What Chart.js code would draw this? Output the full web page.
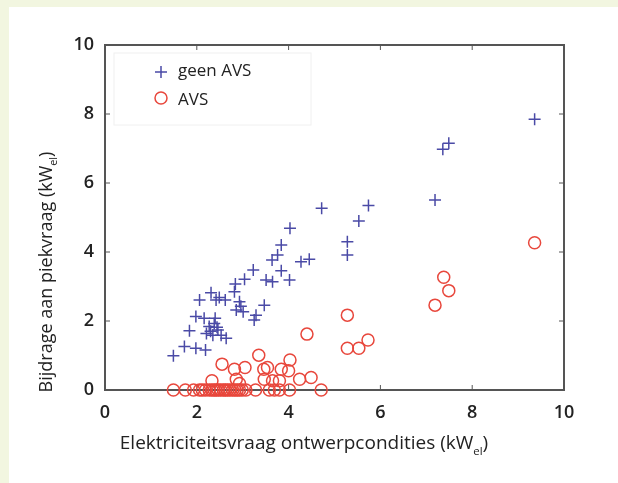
<!DOCTYPE html>
<html>
<head>
<meta charset="utf-8">
<script src="https://cdn.jsdelivr.net/npm/chart.js@4"></script>
<style>
  html, body { margin: 0; padding: 0; background: #f2f6e0; overflow: hidden; }
  #wrap { position: absolute; left: 9px; top: 7px; width: 640px; height: 500px; background: #fff; }
  canvas { position: absolute; left: 0; top: 0; }
</style>
</head>
<body>
<div id="wrap"></div>
<canvas id="chart" width="618" height="483"></canvas>
<script>
// geen AVS (plus markers)
const geenAvsX = [1.49, 1.73, 1.98, 2.19, 1.84, 1.98, 2.16, 2.06, 2.31, 2.42, 2.49, 2.62, 2.82, 2.84, 3.04,
    3.23, 3.51, 3.65, 3.84, 3.64, 3.76, 3.84, 4.03, 4.02, 4.27, 4.45, 2.86, 2.96, 3.01, 2.93,
    3.25, 3.29, 3.47, 2.27, 2.38, 2.46, 2.35, 2.53, 2.64, 2.21, 2.40, 2.30, 2.44, 4.72, 5.28,
    5.28, 5.53, 5.74, 7.19, 7.36, 7.49, 9.36];
const geenAvsY = [0.99, 1.26, 1.21, 1.16, 1.72, 2.13, 2.08, 2.61, 2.82, 2.61, 2.68, 2.61, 2.85, 3.07, 3.21,
    3.48, 3.19, 3.14, 3.46, 3.77, 3.91, 4.20, 4.69, 3.19, 3.72, 3.79, 2.32, 2.43, 2.27, 2.56,
    2.03, 2.17, 2.46, 1.84, 1.93, 1.74, 1.59, 1.59, 1.50, 1.64, 2.08, 1.70, 1.82, 5.27, 3.91,
    4.30, 4.90, 5.35, 5.51, 6.98, 7.15, 7.85];

// AVS (circle markers)
const avsX = [9.36, 7.38, 7.49, 7.19, 5.28, 5.28, 5.53, 5.73, 4.40, 3.35, 2.55, 4.03, 2.82, 3.05, 3.46,
    3.54, 3.84, 4.00, 4.24, 4.49, 2.33, 2.86, 2.93, 3.47, 3.65, 3.80,
    1.49, 1.75, 1.93, 2.06, 2.12, 2.19, 2.27, 2.33, 2.38, 2.42, 2.47, 2.52, 2.58, 2.62, 2.67,
    2.72, 2.78, 2.83, 2.88, 2.93, 2.99, 3.07, 3.28, 3.58, 3.69, 3.80, 4.02, 4.71];
const avsY = [4.27, 3.27, 2.88, 2.46, 2.17, 1.21, 1.21, 1.45, 1.62, 1.01, 0.75, 0.87, 0.60, 0.65, 0.60,
    0.65, 0.60, 0.56, 0.31, 0.36, 0.27, 0.31, 0.19, 0.31, 0.27, 0.27,
    0, 0, 0, 0, 0, 0, 0, 0, 0, 0, 0, 0, 0, 0, 0,
    0, 0, 0, 0, 0, 0, 0, 0, 0, 0, 0, 0, 0];

const axisTicks = [0, 2, 4, 6, 8, 10];
const xTitle = ['Elektriciteitsvraag ontwerpcondities (kW', 'el', ')'];
const yTitle = ['Bijdrage aan piekvraag (kW', 'el', ')'];
const legendLabels = ['geen AVS', 'AVS'];

const blue = '#4a4aa6';
const red = '#e8473c';
const frameColor = '#555555';

function toPoints(xs, ys) {
    return xs.map((x, i) => ({ x: x, y: ys[i] }));
}

function drawSubText(ctx, parts, x, y, size) {
    // text with a subscript in the middle, centred on x
    ctx.font = size + 'px "Open Sans"';
    const w1 = ctx.measureText(parts[0]).width;
    const w3 = ctx.measureText(parts[2]).width;
    ctx.font = (size * 0.6) + 'px "Open Sans"';
    const w2 = ctx.measureText(parts[1]).width;
    let cx = x - (w1 + w2 + w3) / 2;
    ctx.textAlign = 'left';
    ctx.textBaseline = 'middle';
    ctx.font = size + 'px "Open Sans"';
    ctx.fillText(parts[0], cx, y);
    cx += w1;
    ctx.font = (size * 0.6) + 'px "Open Sans"';
    ctx.fillText(parts[1], cx, y + size * 0.4);
    cx += w2;
    ctx.font = size + 'px "Open Sans"';
    ctx.fillText(parts[2], cx, y);
}

const framePlugin = {
    id: 'frame',
    beforeDatasetsDraw(chart) {
        const { ctx, chartArea: a, scales } = chart;
        ctx.save();
        ctx.strokeStyle = frameColor;
        ctx.lineWidth = 2;
        ctx.strokeRect(a.left, a.top, a.right - a.left, a.bottom - a.top);
        ctx.lineWidth = 1;
        axisTicks.forEach(v => {
            const px = scales.x.getPixelForValue(v);
            const py = scales.y.getPixelForValue(v);
            ctx.beginPath();
            ctx.moveTo(px, a.bottom); ctx.lineTo(px, a.bottom - 5);
            ctx.moveTo(px, a.top); ctx.lineTo(px, a.top + 5);
            ctx.moveTo(a.left, py); ctx.lineTo(a.left + 5, py);
            ctx.moveTo(a.right, py); ctx.lineTo(a.right - 5, py);
            ctx.stroke();
        });

        // legend box
        ctx.fillStyle = '#ffffff';
        ctx.fillRect(a.left + 9, a.top + 8, 197, 72);
        ctx.strokeStyle = '#f0f0f0';
        ctx.strokeRect(a.left + 9, a.top + 8, 197, 72);

        ctx.lineWidth = 1.5;
        ctx.strokeStyle = blue;
        ctx.beginPath();
        ctx.moveTo(a.left + 50, a.top + 27); ctx.lineTo(a.left + 62, a.top + 27);
        ctx.moveTo(a.left + 56, a.top + 21); ctx.lineTo(a.left + 56, a.top + 33);
        ctx.stroke();
        ctx.strokeStyle = red;
        ctx.beginPath();
        ctx.arc(a.left + 56, a.top + 53, 6, 0, Math.PI * 2);
        ctx.stroke();

        ctx.fillStyle = '#222222';
        ctx.font = '17px "Open Sans"';
        ctx.textAlign = 'left';
        ctx.textBaseline = 'middle';
        ctx.fillText(legendLabels[0], a.left + 73, a.top + 26);
        ctx.fillText(legendLabels[1], a.left + 73, a.top + 55);
        ctx.restore();
    },
    afterDraw(chart) {
        const { ctx } = chart;
        ctx.save();
        ctx.fillStyle = '#222222';
        drawSubText(ctx, xTitle, 304, 444, 19);
        ctx.translate(47, 272);
        ctx.rotate(-Math.PI / 2);
        drawSubText(ctx, yTitle, 0, 0, 18);
        ctx.restore();
    }
};

const ctx = document.getElementById('chart').getContext('2d');
new Chart(ctx, {
    type: 'scatter',
    data: {
        datasets: [{
            label: legendLabels[0],
            data: toPoints(geenAvsX, geenAvsY),
            pointStyle: 'cross',
            pointRadius: 6,
            borderColor: blue,
            borderWidth: 1.5,
            clip: false
        }, {
            label: legendLabels[1],
            data: toPoints(avsX, avsY),
            pointStyle: 'circle',
            pointRadius: 6,
            borderColor: red,
            backgroundColor: 'rgba(255,255,255,0)',
            borderWidth: 1.5,
            clip: false
        }]
    },
    plugins: [framePlugin],
    options: {
        responsive: false,
        animation: false,
        layout: { padding: { left: 0, top: 45, right: 54, bottom: 0 } },
        plugins: {
            legend: { display: false },
            tooltip: { enabled: false }
        },
        scales: {
            x: {
                min: 0,
                max: 10,
                afterFit: scale => { scale.height = 93; },
                afterBuildTicks: scale => { scale.ticks = axisTicks.map(v => ({ value: v })); },
                grid: { display: false },
                border: { display: false },
                ticks: {
                    padding: 4,
                    color: '#222222',
                    font: { family: 'Open Sans', size: 18, weight: '600' }
                }
            },
            y: {
                min: 0,
                max: 10,
                afterFit: scale => { scale.width = 105; },
                afterBuildTicks: scale => { scale.ticks = axisTicks.map(v => ({ value: v })); },
                grid: { display: false },
                border: { display: false },
                ticks: {
                    padding: 3,
                    color: '#222222',
                    font: { family: 'Open Sans', size: 18, weight: '600' }
                }
            }
        }
    }
});
</script>
</body>
</html>
